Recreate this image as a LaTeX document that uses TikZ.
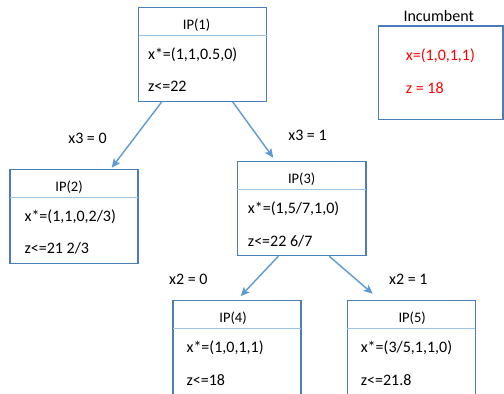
\documentclass[tikz,border=0pt]{standalone}
\usepackage{fontspec}
\setmainfont{Carlito}
\usetikzlibrary{arrows.meta, positioning}

\definecolor{boxblue}{HTML}{4A7EBB}
\definecolor{ruleblue}{HTML}{9DC3E6}
\definecolor{arrowblue}{HTML}{5B9BD5}
\definecolor{incred}{HTML}{FF0000}

\begin{document}
\begin{tikzpicture}[x=1pt, y=-1pt, >=Stealth,
  ipbox/.style={draw=boxblue, line width=1.2pt, minimum width=128pt, minimum height=94pt, inner sep=0pt},
  iptitle/.style={inner sep=0pt, font=\fontsize{14.5}{17}\selectfont},
  iptext/.style={inner sep=0pt, anchor=west, font=\fontsize{16}{19}\selectfont},
  divider/.style={ruleblue, line width=1pt},
  branch/.style={-{Stealth[length=9pt, width=8pt, inset=2pt]}, arrowblue, line width=1.4pt},
  branchlabel/.style={inner sep=0pt, font=\fontsize{16}{19}\selectfont}]
\useasboundingbox (0,0) rectangle (504,394);
% the five subproblems
\node[ipbox] (ip1) at (202.5,54.3) {};
\node[ipbox] (ip2) at (74,216.3) {};
\node[ipbox, minimum width=128.7pt] (ip3) at (301.7,208.7) {};
\node[ipbox, minimum height=97pt] (ip4) at (237,349.2) {};
\node[ipbox, minimum height=97pt] (ip5) at (411.2,349.2) {};
% titles and the rule under them
\node[iptitle] (ip1t) at ([shift={(-6,18.5)}]ip1.north) {IP(1)};
\node[iptitle] (ip2t) at ([shift={(-5,18.5)}]ip2.north) {IP(2)};
\node[iptitle] (ip3t) at ([shift={(0,18.5)}]ip3.north) {IP(3)};
\node[iptitle] (ip4t) at ([shift={(-4,18.5)}]ip4.north) {IP(4)};
\node[iptitle] (ip5t) at ([shift={(1,18.5)}]ip5.north) {IP(5)};
\foreach \n in {ip1,ip2,ip3,ip4,ip5}
  \draw[divider] ([shift={(0.6,28.5)}]\n.north west) -- ([shift={(-0.6,28.5)}]\n.north east);
% LP solutions and bounds
\node[iptext] (ip1x) at ([shift={(10,47.7)}]ip1.north west) {x*=(1,1,0.5,0)};
\node[iptext] (ip1z) at ([shift={(10,79.8)}]ip1.north west) {z<=22};
\node[iptext] (ip2x) at ([shift={(15,47.7)}]ip2.north west) {x*=(1,1,0,2/3)};
\node[iptext] (ip2z) at ([shift={(15,79.8)}]ip2.north west) {z<=21 2/3};
\node[iptext] (ip3x) at ([shift={(11,47.7)}]ip3.north west) {x*=(1,5/7,1,0)};
\node[iptext] (ip3z) at ([shift={(11,79.8)}]ip3.north west) {z<=22 6/7};
\node[iptext] (ip4x) at ([shift={(14,47.7)}]ip4.north west) {x*=(1,0,1,1)};
\node[iptext] (ip4z) at ([shift={(14,79.8)}]ip4.north west) {z<=18};
\node[iptext] (ip5x) at ([shift={(14,47.7)}]ip5.north west) {x*=(3/5,1,1,0)};
\node[iptext] (ip5z) at ([shift={(14,79.8)}]ip5.north west) {z<=21.8};
% branching
\draw[branch] ([xshift=-40.8pt]ip1.south) -- ([shift={(37.7,-1)}]ip2.north);
\draw[branch] ([xshift=30.2pt]ip1.south) -- ([shift={(-28.4,-3.4)}]ip3.north);
\draw[branch] ([xshift=-23.4pt]ip3.south) -- ([shift={(3.7,-4)}]ip4.north);
\draw[branch] ([xshift=27.6pt]ip3.south) -- ([shift={(-38.5,-6.4)}]ip5.north);
\node[branchlabel] (b13) at (87.5,138.3) {x3 = 0};
\node[branchlabel] (b13r) at (307.5,135) {x3 = 1};
\node[branchlabel] (b34) at (188.3,279.3) {x2 = 0};
\node[branchlabel] (b35) at (408.3,279.3) {x2 = 1};
% incumbent
\node[ipbox, minimum width=124.4pt, minimum height=93.3pt] (inc) at (440.8,72.7) {};
\node[branchlabel] (inct) at (438.7,16.2) {Incumbent};
\node[iptext, text=incred] (incx) at ([shift={(27.7,30.7)}]inc.north west) {x=(1,0,1,1)};
\node[iptext, text=incred] (incz) at ([shift={(27.7,63)}]inc.north west) {z = 18};
\end{tikzpicture}
\end{document}
